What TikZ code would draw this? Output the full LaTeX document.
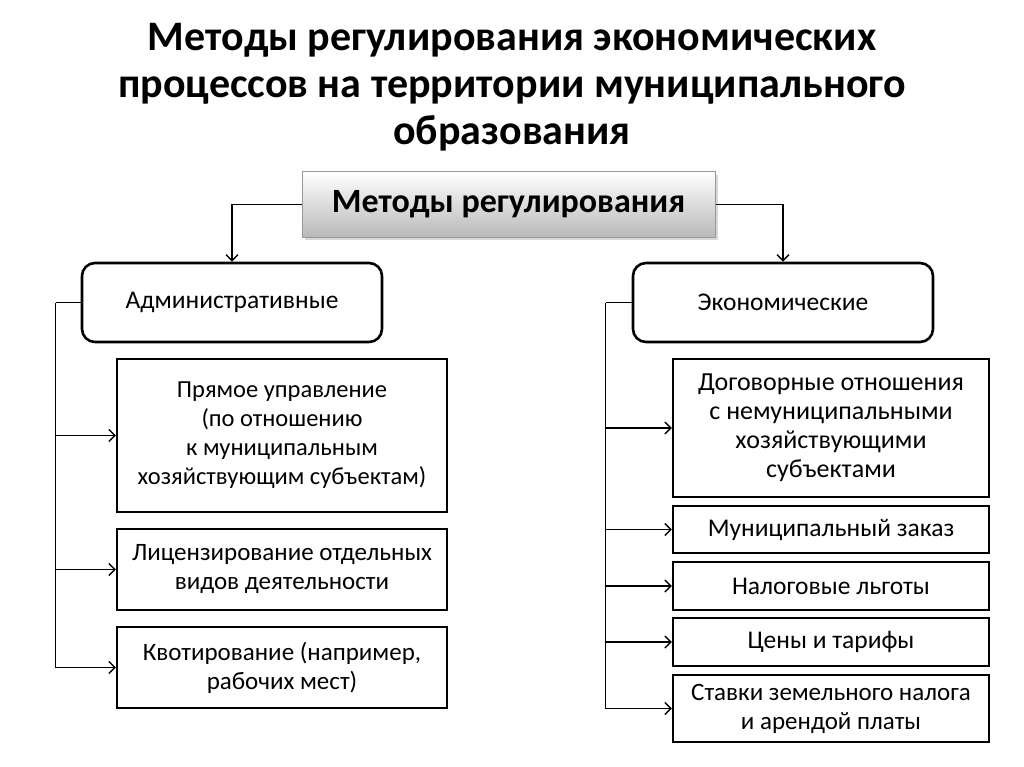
\documentclass[tikz,border=0pt]{standalone}
\usepackage{fontspec}
\setmainfont{Carlito}
\usetikzlibrary{shapes,arrows,arrows.meta,positioning,shadows,calc}

\begin{document}
\begin{tikzpicture}[
    x=1pt, y=-1pt,
    topbox/.style={rectangle, draw=gray!80, line width=1pt, top color=white, bottom color=gray!55, minimum width=413pt, minimum height=65pt, drop shadow={shadow xshift=3pt, shadow yshift=-3pt, fill=gray!60}, font=\bfseries\fontsize{34}{40}\selectfont},
    groupbox/.style={rectangle, draw, line width=2.6pt, rounded corners=13pt, minimum width=300pt, minimum height=79pt, font=\fontsize{25.5}{29}\selectfont},
    itembox/.style={rectangle, draw, line width=2.4pt, align=center, inner sep=0pt, font=\fontsize{25.5}{29}\selectfont},
    arrow/.style={-{Straight Barb[length=6pt,width=12pt]}, line width=1.4pt},
    line/.style={line width=1.4pt}
]
\useasboundingbox (0,0) rectangle (1024,767);

% Title
\node[align=center, font=\bfseries\fontsize{42}{47}\selectfont] (title) at (512,87) {Методы регулирования экономических\\процессов на территории муниципального\\образования};

% Top level
\node[topbox] (methods) at (508.5,204.5) {Методы регулирования};

% Groups
\node[groupbox] (adm) at (232,302.5) {Административные};
\node[groupbox] (eco) at (783,302.5) {Экономические};

% Administrative methods
\node[itembox, minimum width=330pt, minimum height=153pt, font=\fontsize{24.5}{29}\selectfont] (direct) at (282,435.5) {Прямое управление\\(по отношению\\к муниципальным\\хозяйствующим субъектам)};
\node[itembox, minimum width=330pt, minimum height=81pt, font=\fontsize{25}{29}\selectfont] (license) at (282,569.5) {Лицензирование отдельных\\видов деятельности};
\node[itembox, minimum width=330pt, minimum height=81pt, font=\fontsize{25}{29}\selectfont] (quota) at (282,667.5) {Квотирование (например,\\рабочих мест)};

% Economic methods
\node[itembox, minimum width=316pt, minimum height=138pt, font=\fontsize{26}{29}\selectfont] (contract) at (831,428) {Договорные отношения\\с немуниципальными\\хозяйствующими\\субъектами};
\node[itembox, minimum width=316pt, minimum height=47pt] (order) at (831,529.5) {Муниципальный заказ};
\node[itembox, minimum width=316pt, minimum height=48pt] (tax) at (831,586) {Налоговые льготы};
\node[itembox, minimum width=316pt, minimum height=48pt] (prices) at (831,642) {Цены и тарифы};
\node[itembox, minimum width=316pt, minimum height=67pt, font=\fontsize{25}{29}\selectfont] (rates) at (831,708.5) {Ставки земельного налога\\и арендой платы};

% Spines
\coordinate (lspine) at ($(adm.west)+(-25,0)$);
\coordinate (rspine) at ($(eco.west)+(-26,0)$);

% Arrows
\draw[arrow] (methods.west) -| (adm.north);
\draw[arrow] (methods.east) -| (eco.north);

\draw[line] (adm.west) -- (lspine);
\draw[arrow] (lspine) |- (quota.west);
\draw[arrow] (lspine |- direct.west) -- (direct.west);
\draw[arrow] (lspine |- license.west) -- (license.west);

\draw[line] (eco.west) -- (rspine);
\draw[arrow] (rspine) |- (rates.west);
\draw[arrow] (rspine |- contract.west) -- (contract.west);
\draw[arrow] (rspine |- order.west) -- (order.west);
\draw[arrow] (rspine |- tax.west) -- (tax.west);
\draw[arrow] (rspine |- prices.west) -- (prices.west);

\end{tikzpicture}
\end{document}
